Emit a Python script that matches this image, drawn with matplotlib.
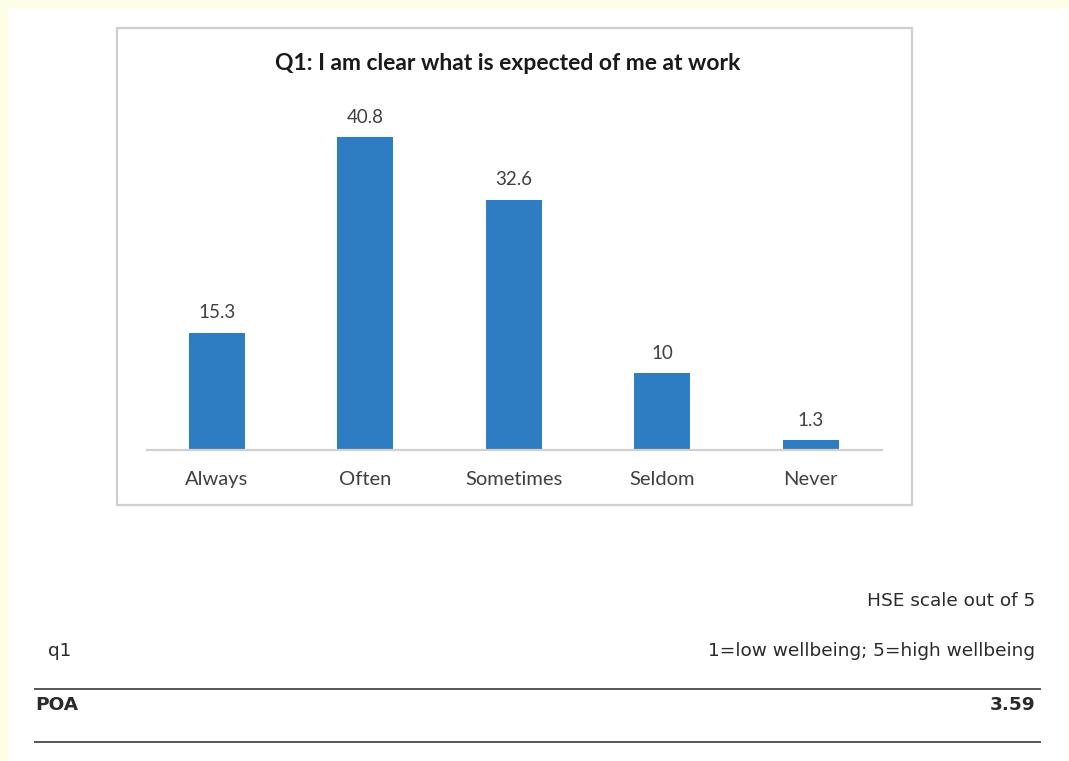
import matplotlib.pyplot as plt
from matplotlib.patches import Rectangle

# data
categories = ["Always", "Often", "Sometimes", "Seldom", "Never"]
percentages = [15.3, 40.8, 32.6, 10, 1.3]
value_labels = ["15.3", "40.8", "32.6", "10", "1.3"]
chart_title = "Q1: I am clear what is expected of me at work"

W, H = 1069, 761
BLUE = "#2E7DC2"

fig = plt.figure(figsize=(W / 100, H / 100), dpi=100)
fig.patch.set_facecolor("#FEFDE6")

# page background in pixel coordinates (y downwards)
page = fig.add_axes([0, 0, 1, 1])
page.set_xlim(0, W)
page.set_ylim(H, 0)
page.axis("off")
page.add_patch(Rectangle((8, 8), 1060, 760, facecolor="white", edgecolor="none"))

# frame round the chart
page.add_patch(Rectangle((117, 28), 795, 477, facecolor="white",
                         edgecolor="#CFCFCF", linewidth=1.6))

# table under the chart
txt = dict(family="DejaVu Sans", fontsize=13.3, color="#2a2a2a")
page.text(1035, 601, "HSE scale out of 5", ha="right", va="center", **txt)
page.text(48, 651, "q1", ha="left", va="center", **txt)
page.text(1035, 651, "1=low wellbeing; 5=high wellbeing", ha="right", va="center", **txt)
page.plot([35, 1040], [689, 689], color="#555555", lw=1.4)
page.text(35, 705, "POA", ha="left", va="center", fontweight="bold", **txt)
page.text(1035, 705, "3.59", ha="right", va="center", fontweight="bold", **txt)
page.plot([35, 1040], [742, 742], color="#555555", lw=1.4)

# the bar chart itself
ax = fig.add_axes([147 / W, (H - 450) / H, 735 / W, 350 / H])
ax.patch.set_alpha(0)
x = range(len(categories))
bars = ax.bar(x, percentages, width=0.38, color=BLUE)
ax.set_xlim(-0.47, 4.48)
ax.set_ylim(0, 350 / 7.67)

for b, lab in zip(bars, value_labels):
    ax.text(b.get_x() + b.get_width() / 2, b.get_height() + 1.5, lab,
            ha="center", va="bottom", family="Lato", fontsize=13.5, color="#404040")

ax.set_xticks(list(x))
ax.set_xticklabels(categories, family="Lato", fontsize=14.5, color="#404040")
ax.tick_params(axis="x", length=0, pad=15)
ax.set_yticks([])
for s in ["top", "right", "left"]:
    ax.spines[s].set_visible(False)
ax.spines["bottom"].set_color("#D0D0D0")
ax.spines["bottom"].set_linewidth(1.6)

fig.text(508 / W, 1 - 63 / H, chart_title, ha="center", va="center",
         family="Lato", fontweight="bold", fontsize=16.5, color="#1a1a1a")

fig.savefig("out.png", dpi=100, facecolor=fig.get_facecolor())
